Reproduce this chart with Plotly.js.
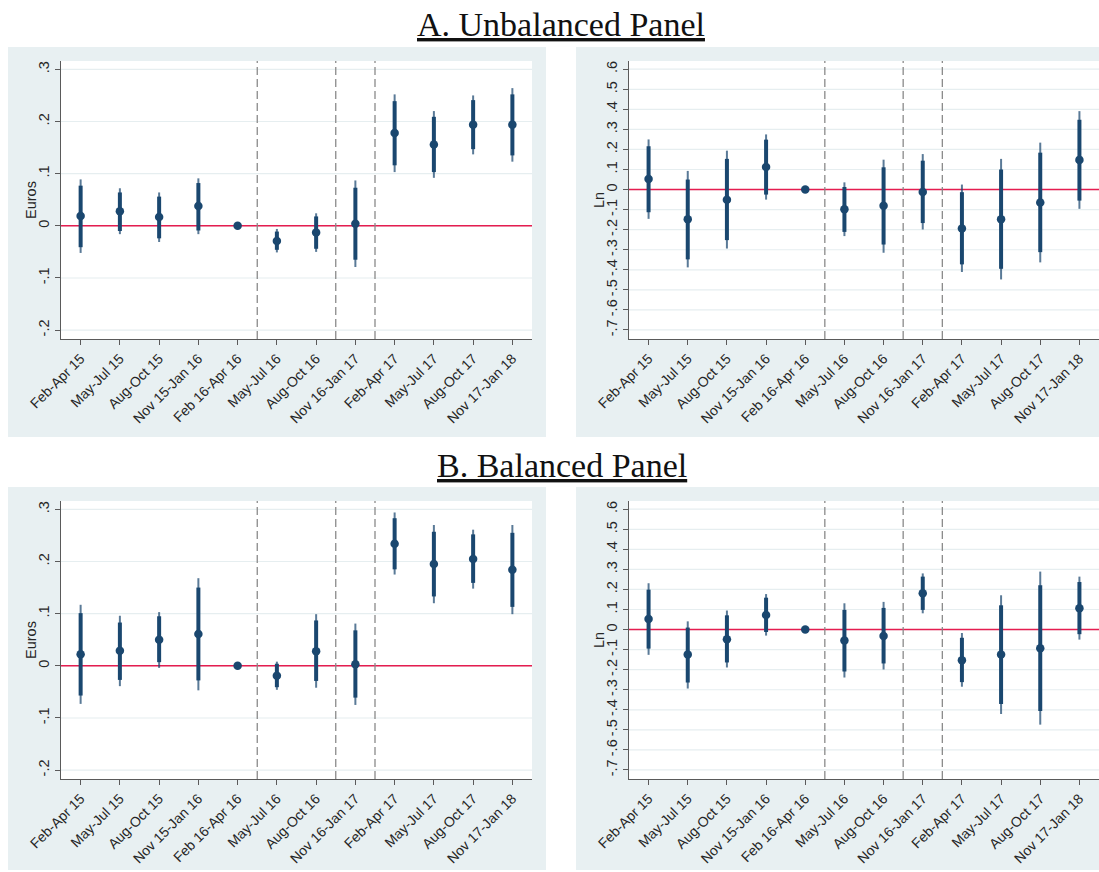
<!DOCTYPE html>
<html>
<head>
<meta charset="utf-8">
<script src="https://cdn.plot.ly/plotly-3.0.1.min.js"></script>
<style>
  html, body { margin: 0; padding: 0; background: #ffffff; }
  #chart { width: 1099px; height: 872px; }
</style>
</head>
<body>
<div id="chart"></div>
<script>
// Quarterly periods (Feb 16-Apr 16 is the omitted reference period)
const periods = ['Feb-Apr 15', 'May-Jul 15', 'Aug-Oct 15', 'Nov 15-Jan 16', 'Feb 16-Apr 16',
                 'May-Jul 16', 'Aug-Oct 16', 'Nov 16-Jan 17', 'Feb-Apr 17', 'May-Jul 17',
                 'Aug-Oct 17', 'Nov 17-Jan 18'];
// Index of the last period before each policy break
const breakAfter = [4, 6, 7];

// Euro-axis ticks and log-axis ticks (Stata-style labels)
const eurosTickVals = [-0.2, -0.1, 0, 0.1, 0.2, 0.3];
const eurosTickText = ['-.2', '-.1', '0', '.1', '.2', '.3'];
const lnTickVals = [-0.7, -0.6, -0.5, -0.4, -0.3, -0.2, -0.1, 0, 0.1, 0.2, 0.3, 0.4, 0.5, 0.6];
const lnTickText = ['-.7', '-.6', '-.5', '-.4', '-.3', '-.2', '-.1', '0', '.1', '.2', '.3', '.4', '.5', '.6'];

// A. Unbalanced panel, euros
const unbalEurosCoef = [0.019, 0.028, 0.017, 0.038, 0, -0.029, -0.013, 0.004, 0.178, 0.156, 0.194, 0.194];
const unbalEurosLo95 = [-0.052, -0.016, -0.031, -0.016, 0, -0.051, -0.050, -0.079, 0.103, 0.092, 0.137, 0.123];
const unbalEurosHi95 = [0.089, 0.072, 0.064, 0.091, 0, -0.006, 0.024, 0.087, 0.252, 0.220, 0.250, 0.264];
const unbalEurosLo90 = [-0.041, -0.010, -0.024, -0.009, 0, -0.046, -0.044, -0.065, 0.116, 0.103, 0.147, 0.135];
const unbalEurosHi90 = [0.077, 0.064, 0.056, 0.082, 0, -0.011, 0.018, 0.073, 0.239, 0.209, 0.241, 0.252];

// A. Unbalanced panel, logs
const unbalLnCoef = [0.053, -0.148, -0.051, 0.113, 0, -0.098, -0.081, -0.012, -0.194, -0.148, -0.065, 0.148];
const unbalLnLo95 = [-0.146, -0.388, -0.294, -0.050, 0, -0.232, -0.315, -0.199, -0.411, -0.448, -0.363, -0.096];
const unbalLnHi95 = [0.250, 0.093, 0.194, 0.275, 0, 0.036, 0.149, 0.177, 0.025, 0.153, 0.234, 0.391];
const unbalLnLo90 = [-0.113, -0.348, -0.252, -0.025, 0, -0.211, -0.274, -0.167, -0.373, -0.395, -0.312, -0.055];
const unbalLnHi90 = [0.216, 0.050, 0.153, 0.249, 0, 0.013, 0.111, 0.144, -0.013, 0.100, 0.184, 0.348];

// B. Balanced panel, euros
const balEurosCoef = [0.022, 0.029, 0.050, 0.061, 0, -0.019, 0.028, 0.003, 0.234, 0.195, 0.205, 0.184];
const balEurosLo95 = [-0.073, -0.039, -0.004, -0.047, 0, -0.046, -0.042, -0.075, 0.175, 0.120, 0.148, 0.099];
const balEurosHi95 = [0.117, 0.096, 0.103, 0.168, 0, 0.008, 0.099, 0.081, 0.294, 0.270, 0.261, 0.270];
const balEurosLo90 = [-0.057, -0.027, 0.007, -0.028, 0, -0.041, -0.029, -0.061, 0.185, 0.133, 0.159, 0.113];
const balEurosHi90 = [0.101, 0.083, 0.095, 0.150, 0, 0.004, 0.087, 0.068, 0.283, 0.257, 0.252, 0.255];

// B. Balanced panel, logs
const balLnCoef = [0.053, -0.124, -0.048, 0.073, 0, -0.055, -0.032, 0.181, -0.153, -0.124, -0.093, 0.106];
const balLnLo95 = [-0.126, -0.294, -0.189, -0.030, 0, -0.239, -0.199, 0.081, -0.285, -0.421, -0.474, -0.050];
const balLnHi95 = [0.231, 0.041, 0.095, 0.177, 0, 0.131, 0.138, 0.280, -0.017, 0.171, 0.289, 0.264];
const balLnLo90 = [-0.095, -0.264, -0.164, -0.012, 0, -0.209, -0.169, 0.098, -0.262, -0.371, -0.406, -0.023];
const balLnHi90 = [0.199, 0.010, 0.071, 0.159, 0, 0.098, 0.108, 0.264, -0.041, 0.121, 0.221, 0.237];

const NAVY = '#1a476f';
const TEXT = '#262626';
const FONT = 'Liberation Sans, Arial, sans-serif';
const SERIF = 'Liberation Serif, Times New Roman, serif';

function ciTrace(coef, lo, hi, xa, ya, width, color) {
  return {
    type: 'scatter', mode: 'markers', x: periods, y: coef,
    xaxis: xa, yaxis: ya, showlegend: false, hoverinfo: 'skip',
    marker: { size: 1, opacity: 0 },
    error_y: {
      type: 'data', symmetric: false,
      array: coef.map((c, i) => hi[i] - c),
      arrayminus: coef.map((c, i) => c - lo[i]),
      width: 0, thickness: width, color: color
    }
  };
}

function panelTraces(coef, lo95, hi95, lo90, hi90, xa, ya) {
  return [
    ciTrace(coef, lo95, hi95, xa, ya, 2, 'rgba(26,71,111,0.72)'),
    ciTrace(coef, lo90, hi90, xa, ya, 4, NAVY),
    {
      type: 'scatter', mode: 'markers', x: periods, y: coef,
      xaxis: xa, yaxis: ya, showlegend: false,
      marker: { size: 8.5, color: NAVY }
    }
  ];
}

const data = [].concat(
  panelTraces(unbalEurosCoef, unbalEurosLo95, unbalEurosHi95, unbalEurosLo90, unbalEurosHi90, 'x', 'y'),
  panelTraces(unbalLnCoef, unbalLnLo95, unbalLnHi95, unbalLnLo90, unbalLnHi90, 'x2', 'y2'),
  panelTraces(balEurosCoef, balEurosLo95, balEurosHi95, balEurosLo90, balEurosHi90, 'x3', 'y3'),
  panelTraces(balLnCoef, balLnLo95, balLnHi95, balLnLo90, balLnHi90, 'x4', 'y4')
);

const W = 1099, H = 872;
const px = v => v / W;
const py = v => 1 - v / H;

function xAxis(domain, anchor) {
  return {
    domain: domain, anchor: anchor, type: 'category',
    range: [-0.5, periods.length - 0.5],
    showline: true, linecolor: '#5a5a5a', linewidth: 1,
    ticks: 'outside', ticklen: 5, tickcolor: '#5a5a5a', tickwidth: 1,
    tickangle: -45, showgrid: false, zeroline: false,
    tickfont: { family: FONT, size: 14, color: TEXT }
  };
}

function yAxis(domain, anchor, range, vals, text) {
  return {
    domain: domain, anchor: anchor, range: range,
    tickmode: 'array', tickvals: vals, ticktext: text, tickangle: -90,
    showline: true, linecolor: '#5a5a5a', linewidth: 1,
    ticks: 'outside', ticklen: 5, tickcolor: '#5a5a5a', tickwidth: 1,
    showgrid: false, zeroline: false,
    tickfont: { family: FONT, size: 14.5, color: TEXT }
  };
}

const leftX = [px(61), px(532)];
const rightX = [px(629), 1];
const topY = [py(339), py(61)];
const botY = [py(779), py(501)];

const shapes = [];
// Grey graph regions with white plot regions
const regions = [
  { x0: 8, x1: 546, y0: 47, y1: 437, plot: [61, 532, 61, 339] },
  { x0: 576, x1: 1099, y0: 47, y1: 437, plot: [629, 1099, 61, 339] },
  { x0: 8, x1: 546, y0: 487, y1: 870, plot: [61, 532, 501, 779] },
  { x0: 576, x1: 1099, y0: 487, y1: 870, plot: [629, 1099, 501, 779] }
];
regions.forEach(r => {
  shapes.push({ type: 'rect', xref: 'paper', yref: 'paper', layer: 'below',
    x0: px(r.x0), x1: px(r.x1), y0: py(r.y1), y1: py(r.y0),
    fillcolor: '#e8f0f2', line: { width: 0 } });
  shapes.push({ type: 'rect', xref: 'paper', yref: 'paper', layer: 'below',
    x0: px(r.plot[0]), x1: px(r.plot[1]), y0: py(r.plot[3]), y1: py(r.plot[2]),
    fillcolor: '#ffffff', line: { width: 0 } });
});
[['', eurosTickVals], ['2', lnTickVals], ['3', eurosTickVals], ['4', lnTickVals]].forEach(([s, vals]) => {
  // Light horizontal gridlines at each labelled tick
  vals.forEach(v => {
    shapes.push({ type: 'line', xref: 'x' + s + ' domain', yref: 'y' + s,
      x0: 0, x1: 1, y0: v, y1: v, layer: 'below',
      line: { color: '#e6eef0', width: 1.2 } });
  });
  // Zero reference line
  shapes.push({ type: 'line', xref: 'x' + s + ' domain', yref: 'y' + s,
    x0: 0, x1: 1, y0: 0, y1: 0, layer: 'below',
    line: { color: '#e51d50', width: 1.5 } });
  // Dashed period-break lines
  breakAfter.forEach(b => {
    shapes.push({ type: 'line', xref: 'x' + s, yref: 'y' + s + ' domain',
      x0: b + 0.5, x1: b + 0.5, y0: 0, y1: 1, layer: 'below',
      line: { color: '#8a8a8a', width: 1.3, dash: '8px,4px' } });
  });
});

function yTitle(text, x, y) {
  return { text: text, xref: 'paper', yref: 'paper', x: px(x), y: py(y),
    xanchor: 'center', yanchor: 'middle', textangle: -90, showarrow: false,
    font: { family: FONT, size: 14.5, color: TEXT } };
}

const layout = {
  width: W, height: H,
  margin: { l: 0, r: 0, t: 0, b: 0 },
  paper_bgcolor: '#ffffff', plot_bgcolor: 'rgba(0,0,0,0)',
  showlegend: false,
  xaxis: xAxis(leftX, 'y'),
  yaxis: yAxis(topY, 'x', [-0.217, 0.316], eurosTickVals, eurosTickText),
  xaxis2: xAxis(rightX, 'y2'),
  yaxis2: yAxis(topY, 'x2', [-0.745, 0.641], lnTickVals, lnTickText),
  xaxis3: xAxis(leftX, 'y3'),
  yaxis3: yAxis(botY, 'x3', [-0.217, 0.316], eurosTickVals, eurosTickText),
  xaxis4: xAxis(rightX, 'y4'),
  yaxis4: yAxis(botY, 'x4', [-0.745, 0.641], lnTickVals, lnTickText),
  shapes: shapes,
  annotations: [
    { text: '<u>A. Unbalanced Panel</u>', xref: 'paper', yref: 'paper',
      x: px(561), y: py(24), xanchor: 'center', yanchor: 'middle', showarrow: false,
      font: { family: SERIF, size: 34, color: '#111' } },
    { text: '<u>B. Balanced Panel</u>', xref: 'paper', yref: 'paper',
      x: px(562), y: py(466), xanchor: 'center', yanchor: 'middle', showarrow: false,
      font: { family: SERIF, size: 34, color: '#111' } },
    yTitle('Euros', 31, 200),
    yTitle('Ln', 599, 200),
    yTitle('Euros', 31, 640),
    yTitle('Ln', 599, 640)
  ]
};

Plotly.newPlot('chart', data, layout, { displayModeBar: false, staticPlot: true });
</script>
</body>
</html>
